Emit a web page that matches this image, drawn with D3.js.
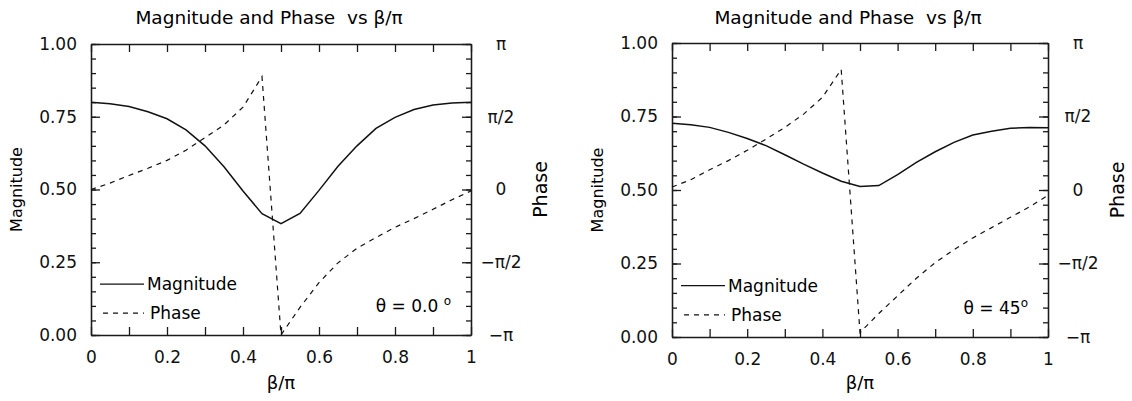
<!DOCTYPE html>
<html>
<head>
<meta charset="utf-8">
<script src="https://cdn.jsdelivr.net/npm/d3@7"></script>
<style>
  body { margin: 0; background: #fff; }
  svg { display: block; font-family: "DejaVu Sans", sans-serif; }
  .axis path, .axis line { stroke: #1a1a1a; stroke-width: 1.3; }
  .axis text { font-size: 17px; fill: #111; font-family: "DejaVu Sans", sans-serif; }
</style>
</head>
<body>
<div class="visHolder"></div>
<script>
// beta / pi sample points
var beta = [0, 0.05, 0.1, 0.15, 0.2, 0.25, 0.3, 0.35, 0.4, 0.45, 0.5,
            0.55, 0.6, 0.65, 0.7, 0.75, 0.8, 0.85, 0.9, 0.95, 1];

// theta = 0.0 deg
var magLeft = [0.800, 0.795, 0.785, 0.767, 0.743, 0.705, 0.650, 0.578, 0.495, 0.417, 0.383,
               0.418, 0.497, 0.580, 0.650, 0.710, 0.748, 0.775, 0.790, 0.797, 0.800];
// phase in units of pi
var phaseLeft = [0.000, 0.044, 0.096, 0.146, 0.200, 0.270, 0.356, 0.444, 0.566, 0.776, -1.000,
                 -0.810, -0.640, -0.504, -0.404, -0.330, -0.260, -0.200, -0.136, -0.070, -0.010];

// theta = 45 deg
var magRight = [0.727, 0.722, 0.713, 0.696, 0.675, 0.651, 0.620, 0.588, 0.558, 0.530, 0.512,
                0.515, 0.552, 0.594, 0.630, 0.662, 0.687, 0.700, 0.710, 0.713, 0.712];
var phaseRight = [0.020, 0.070, 0.138, 0.200, 0.270, 0.346, 0.426, 0.516, 0.630, 0.820, -0.970,
                  -0.840, -0.720, -0.600, -0.494, -0.406, -0.326, -0.256, -0.186, -0.116, -0.036];

var xTicks = [0, 0.1, 0.2, 0.3, 0.4, 0.5, 0.6, 0.7, 0.8, 0.9, 1];
var xTickLabels = ["0", "", "0.2", "", "0.4", "", "0.6", "", "0.8", "", "1"];
var magMajor = [0, 0.25, 0.5, 0.75, 1];
var magTickLabels = ["0.00", "0.25", "0.50", "0.75", "1.00"];
var phaseMajor = [-1, -0.5, 0, 0.5, 1];
var phaseTickLabels = ["\u2212\u03c0", "\u2212\u03c0/2", "0", "\u03c0/2", "\u03c0"];

var width = 1132, height = 401;
var svg = d3.select(".visHolder").append("svg").attr("width", width).attr("height", height);
svg.append("rect").attr("width", width).attr("height", height).attr("fill", "#fff");

function drawPanel(box, mag, phase, thetaText, thetaSup) {
  var g = svg.append("g");
  var x = d3.scaleLinear().domain([0, 1]).range([box.x0, box.x1]);
  var y = d3.scaleLinear().domain([0, 1]).range([box.y1, box.y0]);
  var yp = d3.scaleLinear().domain([-Math.PI, Math.PI]).range([box.y1, box.y0]);

  var minor = d3.range(0, 1.0001, 0.05);

  // left axis
  g.append("g").attr("class", "axis").attr("transform", "translate(" + box.x0 + ",0)")
    .call(d3.axisLeft(y).tickValues(minor).tickSize(-5).tickSizeOuter(0).tickFormat(""));
  g.append("g").attr("class", "axis").attr("transform", "translate(" + box.x0 + ",0)")
    .call(d3.axisLeft(y).tickValues(magMajor).tickSize(-9).tickSizeOuter(0).tickPadding(14)
      .tickFormat(function (d, i) { return magTickLabels[i]; }));

  // right axis (phase)
  g.append("g").attr("class", "axis").attr("transform", "translate(" + box.x1 + ",0)")
    .call(d3.axisRight(yp).tickValues(minor.map(function (v) { return (v * 2 - 1) * Math.PI; }))
      .tickSize(-5).tickSizeOuter(0).tickFormat(""));
  var ra = g.append("g").attr("class", "axis").attr("transform", "translate(" + box.x1 + ",0)")
    .call(d3.axisRight(yp).tickValues(phaseMajor.map(function (v) { return v * Math.PI; }))
      .tickSize(-9).tickSizeOuter(0)
      .tickFormat(function (d, i) { return phaseTickLabels[i]; }));
  ra.selectAll("text").attr("x", 30).attr("text-anchor", "middle");

  // bottom and top axes
  g.append("g").attr("class", "axis").attr("transform", "translate(0," + box.y1 + ")")
    .call(d3.axisBottom(x).tickValues(xTicks).tickSize(-8).tickSizeOuter(0).tickPadding(16)
      .tickFormat(function (d, i) { return xTickLabels[i]; }));
  g.append("g").attr("class", "axis").attr("transform", "translate(0," + box.y0 + ")")
    .call(d3.axisTop(x).tickValues(xTicks).tickSize(-8).tickSizeOuter(0).tickFormat(""));

  // curves
  var magLine = d3.line().x(function (d, i) { return x(beta[i]); }).y(function (d) { return y(d); });
  var phLine = d3.line().x(function (d, i) { return x(beta[i]); }).y(function (d) { return yp(d * Math.PI); });

  g.append("path").datum(mag).attr("d", magLine)
    .attr("fill", "none").attr("stroke", "#111").attr("stroke-width", 1.5);
  g.append("path").datum(phase).attr("d", phLine)
    .attr("fill", "none").attr("stroke", "#111").attr("stroke-width", 1.2)
    .attr("stroke-dasharray", "5,5");

  // titles
  g.append("text")
    .attr("x", (box.x0 + box.x1) / 2 - 12).attr("y", 24)
    .attr("text-anchor", "middle").style("font-size", "18.5px").style("white-space", "pre")
    .text("Magnitude and Phase  vs \u03b2/\u03c0");
  g.append("text")
    .attr("x", (box.x0 + box.x1) / 2).attr("y", 389)
    .attr("text-anchor", "middle").style("font-size", "18px")
    .text("\u03b2/\u03c0");
  g.append("text")
    .attr("transform", "translate(" + (box.x0 - 69) + "," + ((box.y0 + box.y1) / 2) + ") rotate(-90)")
    .attr("text-anchor", "middle").style("font-size", "16px")
    .text("Magnitude");
  g.append("text")
    .attr("transform", "translate(" + (box.x1 + 76) + "," + ((box.y0 + box.y1) / 2) + ") rotate(-90)")
    .attr("text-anchor", "middle").style("font-size", "19px")
    .text("Phase");

  // legend
  var ly1 = y(0.175), ly2 = y(0.075);
  g.append("line").attr("x1", box.x0 + 9).attr("x2", box.x0 + 53).attr("y1", ly1).attr("y2", ly1)
    .attr("stroke", "#111").attr("stroke-width", 1.3);
  g.append("text").attr("x", box.x0 + 56).attr("y", ly1 + 6).style("font-size", "17px").text("Magnitude");
  g.append("line").attr("x1", box.x0 + 12).attr("x2", box.x0 + 53).attr("y1", ly2).attr("y2", ly2)
    .attr("stroke", "#111").attr("stroke-width", 1.2).attr("stroke-dasharray", "5,5");
  g.append("text").attr("x", box.x0 + 59).attr("y", ly2 + 6).style("font-size", "17px").text("Phase");

  var t = g.append("text").attr("x", box.x1 - 20).attr("y", y(0.1) + 6)
    .attr("text-anchor", "end").style("font-size", "17px").style("white-space", "pre");
  t.append("tspan").text(thetaText);
  t.append("tspan").attr("dy", -7).style("font-size", "12px").text(thetaSup);
}

drawPanel({ x0: 91, x1: 471, y0: 44, y1: 335 }, magLeft, phaseLeft, "\u03b8 = 0.0 ", "o");
drawPanel({ x0: 672, x1: 1048, y0: 43, y1: 337 }, magRight, phaseRight, "\u03b8 = 45", "o");
</script>
</body>
</html>
